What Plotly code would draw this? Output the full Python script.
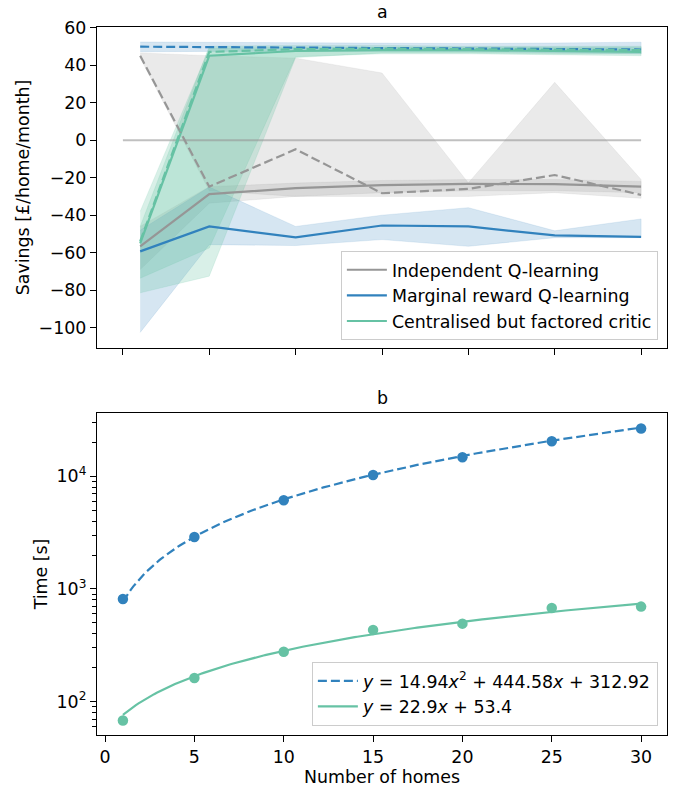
import numpy as np
import plotly.graph_objects as go

# ---------------- data: panel a ----------------
homes = [1, 5, 10, 15, 20, 25, 30]

indep_mean = [-56.6, -28.8, -25.6, -24.0, -23.3, -23.5, -24.8]
indep_hi = [-46.0, -24.8, -22.9, -21.5, -21.0, -21.0, -22.0]
indep_lo = [-69.0, -33.6, -30.0, -28.0, -27.0, -27.0, -28.0]

indep_d_mean = [45.0, -24.8, -4.9, -28.3, -26.0, -18.6, -29.2]
indep_d_hi = [46.5, 45.0, 43.7, 35.8, -22.8, 30.8, -21.0]
indep_d_lo = [44.0, -27.0, -30.0, -30.0, -30.0, -28.0, -31.0]

marg_mean = [-59.3, -46.0, -51.8, -45.5, -46.0, -50.8, -51.6]
marg_hi = [-48.0, -25.0, -46.0, -40.0, -36.0, -48.3, -42.0]
marg_lo = [-102.5, -55.7, -56.2, -53.0, -56.6, -52.0, -52.0]

marg_d_mean = [49.8, 49.6, 49.4, 49.3, 49.1, 48.8, 48.3]
marg_d_hi = [52.3, 52.1, 51.8, 51.6, 51.5, 51.8, 52.2]
marg_d_lo = [47.1, 47.3, 47.5, 47.4, 47.2, 46.6, 46.0]

cent_mean = [-55.0, 45.0, 47.5, 48.0, 48.0, 47.5, 47.0]
cent_hi = [-38.0, 49.0, 49.5, 49.5, 49.5, 49.5, 49.5]
cent_lo = [-73.6, -57.5, 44.5, 46.0, 46.0, 45.5, 45.0]

cent_d_mean = [-54.0, 47.0, 48.5, 48.8, 48.5, 48.2, 48.0]
cent_d_hi = [-46.0, 50.0, 50.5, 50.5, 50.0, 50.0, 50.0]
cent_d_lo = [-81.4, -72.5, 44.0, 46.5, 46.5, 46.0, 46.0]

zero_x = [0, 30]
zero_y = [0, 0]

# ---------------- data: panel b ----------------
time_q = [815, 2890, 6140, 10300, 14800, 20500, 26600]
time_c = [68, 162, 277, 433, 492, 678, 697]
quad_coef = [14.94, 444.58, 312.92]
lin_coef = [22.9, 53.4]

GRAY = "#969696"
BLUE = "#3182bd"
GREEN = "#66c2a4"
FONT = "DejaVu Sans"
FS = 17.4


def rgba(hexc, a):
    h = hexc.lstrip("#")
    r, g, b = int(h[0:2], 16), int(h[2:4], 16), int(h[4:6], 16)
    return f"rgba({r},{g},{b},{a})"


fig = go.Figure()


def band(x, lo, hi, color, alpha):
    fig.add_trace(go.Scatter(
        x=list(x) + list(x)[::-1], y=list(hi) + list(lo)[::-1],
        fill="toself", fillcolor=rgba(color, alpha), line=dict(width=0.6, color=rgba(color, alpha)),
        mode="lines", showlegend=False, hoverinfo="skip", xaxis="x", yaxis="y"))


band(homes, indep_d_lo, indep_d_hi, GRAY, 0.2)
band(homes, indep_lo, indep_hi, GRAY, 0.2)
band(homes, marg_lo, marg_hi, BLUE, 0.2)
band(homes, marg_d_lo, marg_d_hi, BLUE, 0.2)
band(homes, cent_lo, cent_hi, GREEN, 0.25)
band(homes, cent_d_lo, cent_d_hi, GREEN, 0.25)

fig.add_trace(go.Scatter(x=zero_x, y=zero_y, mode="lines",
                         line=dict(color=rgba("#969696", 0.6), width=2),
                         showlegend=False, xaxis="x", yaxis="y"))

DASH = "9px,4px"
LW = 2.2
for ym, col, name in [(indep_mean, GRAY, "Independent Q-learning"),
                      (marg_mean, BLUE, "Marginal reward Q-learning"),
                      (cent_mean, GREEN, "Centralised but factored critic")]:
    fig.add_trace(go.Scatter(x=homes, y=ym, mode="lines", name=name,
                             line=dict(color=col, width=LW), legend="legend",
                             xaxis="x", yaxis="y"))
for ym, col in [(indep_d_mean, GRAY), (marg_d_mean, BLUE), (cent_d_mean, GREEN)]:
    fig.add_trace(go.Scatter(x=homes, y=ym, mode="lines", showlegend=False,
                             line=dict(color=col, width=LW, dash=DASH),
                             xaxis="x", yaxis="y"))

# panel b
xf = np.linspace(homes[0], homes[-1], 200)
yq = quad_coef[0] * xf ** 2 + quad_coef[1] * xf + quad_coef[2]
yl = lin_coef[0] * xf + lin_coef[1]

fig.add_trace(go.Scatter(x=xf, y=yq, mode="lines", line=dict(color=BLUE, width=LW, dash=DASH),
                         name="<i>y</i> = 14.94<i>x</i><sup>2</sup> + 444.58<i>x</i> + 312.92",
                         legend="legend2", xaxis="x2", yaxis="y2"))
fig.add_trace(go.Scatter(x=xf, y=yl, mode="lines", line=dict(color=GREEN, width=LW),
                         name="<i>y</i> = 22.9<i>x</i> + 53.4",
                         legend="legend2", xaxis="x2", yaxis="y2"))
fig.add_trace(go.Scatter(x=homes, y=time_q, mode="markers", marker=dict(color=BLUE, size=10.5),
                         showlegend=False, xaxis="x2", yaxis="y2"))
fig.add_trace(go.Scatter(x=homes, y=time_c, mode="markers", marker=dict(color=GREEN, size=10.5),
                         showlegend=False, xaxis="x2", yaxis="y2"))

axis_common = dict(showline=True, linecolor="black", linewidth=1.3, mirror=True,
                   ticks="outside", ticklen=6, tickwidth=1.2, tickcolor="black",
                   showgrid=False, zeroline=False, automargin=False,
                   tickfont=dict(family=FONT, size=FS, color="black"))

minor_vals = [m * 10 ** e for e in (1, 2, 3, 4) for m in range(2, 10)]

fig.update_layout(
    width=680, height=787,
    margin=dict(l=97, r=13, t=27, b=52),
    paper_bgcolor="white", plot_bgcolor="white",
    font=dict(family=FONT, color="black", size=FS),
    xaxis=dict(domain=[0, 1], range=[-1.5, 31.5], tickvals=[0, 5, 10, 15, 20, 25, 30],
               showticklabels=False, anchor="y", **axis_common),
    yaxis=dict(domain=[0.5466, 1.0], range=[-110.8, 60.3], tickvals=list(range(-100, 61, 20)),
               anchor="x",
               title=dict(text="Savings [£/home/month]", font=dict(family=FONT, size=FS), standoff=4),
               **axis_common),
    xaxis2=dict(domain=[0, 1], range=[-0.45, 31.45], tickvals=[0, 5, 10, 15, 20, 25, 30],
                anchor="y2",
                title=dict(text="Number of homes", font=dict(family=FONT, size=FS), standoff=2),
                **axis_common),
    yaxis2=dict(domain=[0, 0.4548], type="log", range=[1.703, 4.563], anchor="x2",
                tickvals=[100, 1000, 10000],
                ticktext=["10<sup>2</sup>", "10<sup>3</sup>", "10<sup>4</sup>"],
                minor=dict(tickmode="array", tickvals=minor_vals, ticks="outside", ticklen=3.5,
                           tickwidth=1, tickcolor="black", showgrid=False),
                title=dict(text="Time [s]", font=dict(family=FONT, size=FS), standoff=4),
                **axis_common),
    legend=dict(x=0.984, y=0.558, xanchor="right", yanchor="bottom", itemwidth=40,
                bgcolor="rgba(255,255,255,0.85)", bordercolor="#cccccc", borderwidth=1,
                font=dict(family=FONT, size=FS)),
    legend2=dict(x=0.984, y=0.0127, xanchor="right", yanchor="bottom", itemwidth=40,
                 bgcolor="rgba(255,255,255,0.85)", bordercolor="#cccccc", borderwidth=1,
                 font=dict(family=FONT, size=FS)),
    annotations=[
        dict(text="a", x=0.5, y=1.0, xref="paper", yref="paper", xanchor="center",
             yanchor="bottom", yshift=3, showarrow=False, font=dict(family=FONT, size=FS)),
        dict(text="b", x=0.5, y=0.4548, xref="paper", yref="paper", xanchor="center",
             yanchor="bottom", yshift=3, showarrow=False, font=dict(family=FONT, size=FS)),
    ],
)

fig.write_html("out.html", config={"displayModeBar": False},
               post_script="document.body.style.margin='0px';document.body.style.overflow='hidden';")
